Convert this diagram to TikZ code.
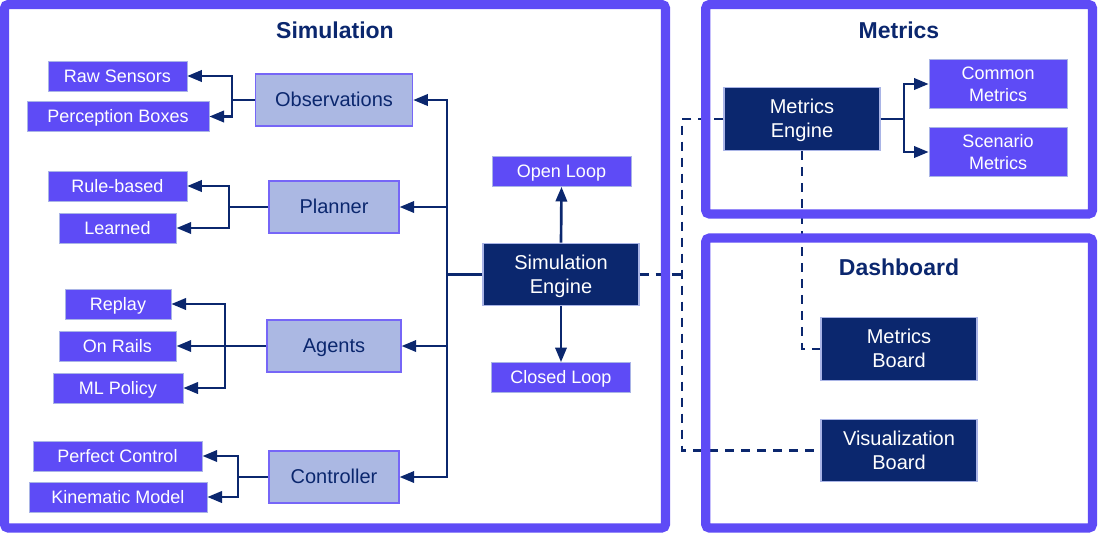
\documentclass[tikz,border=0pt]{standalone}
\usepackage{fontspec}
\setmainfont{Liberation Sans}
\usetikzlibrary{arrows.meta}
\definecolor{framecol}{HTML}{5E4BF6}
\definecolor{navy}{HTML}{0B276E}
\definecolor{lav}{HTML}{ABB8E3}
\definecolor{edgelight}{HTML}{A9B4E6}

\begin{document}
\begin{tikzpicture}[x=0.75pt, y=-0.75pt,
  frame/.style={draw=framecol, line width=7pt, rounded corners=3pt},
  title/.style={font=\fontsize{17.25}{20}\selectfont\bfseries, text=navy},
  leaf/.style={draw=edgelight, line width=0.5pt, fill=framecol, text=white, font=\fontsize{13.5}{16.5}\selectfont, text height=12.76pt, text depth=3.4pt, minimum height=22.5pt, inner sep=0pt},
  leaftwo/.style={leaf, align=center, text height=29.3pt, minimum height=37pt, minimum width=103.5pt},
  comp/.style={draw=framecol!85, line width=0.8pt, fill=lav, text=navy, font=\fontsize{15}{18}\selectfont, text height=14.15pt, text depth=3.75pt, minimum height=39pt, inner sep=0pt},
  engine/.style={draw=edgelight, line width=0.8pt, fill=navy, text=white, font=\fontsize{15}{18}\selectfont, align=center, text height=32.15pt, text depth=3.75pt, minimum width=117pt, minimum height=47pt, inner sep=0pt},
  wire/.style={draw=navy, line width=2pt},
  link/.style={wire, -{Triangle[length=11pt,width=8.5pt]}},
  dlink/.style={wire, dash pattern=on 7pt off 5pt}]
\useasboundingbox (0,0) rectangle (1098,533);

% titles
\node[title] (simtitle) at (335,30) {Simulation};
\node[title] (mettitle) at (899,30) {Metrics};
\node[title] (dashtitle) at (899,267) {Dashboard};

% simulation components
\node[comp, minimum width=118pt] (obs) at (334,100) {Observations};
\node[comp, minimum width=97.5pt] (plan) at (334,207) {Planner};
\node[comp, minimum width=100.5pt] (agents) at (334,346) {Agents};
\node[comp, minimum width=97.5pt] (ctrl) at (334,477) {Controller};

\node[leaf, minimum width=104pt] (raw) at (117.5,76) {Raw Sensors};
\node[leaf, minimum width=136.5pt] (perc) at (118,116.5) {Perception Boxes};
\node[leaf, minimum width=104pt] (rule) at (117.5,186) {Rule-based};
\node[leaf, minimum width=88pt] (learned) at (117.5,228) {Learned};
\node[leaf, minimum width=79.5pt] (replay) at (118,304) {Replay};
\node[leaf, minimum width=88pt] (rails) at (117.5,346) {On Rails};
\node[leaf, minimum width=97.5pt] (mlpol) at (118,388) {ML Policy};
\node[leaf, minimum width=127pt] (perfect) at (117.5,456) {Perfect Control};
\node[leaf, minimum width=133.5pt] (kinem) at (118,497) {Kinematic Model};

\node[engine] (simeng) at (561,274.5) {Simulation\\Engine};
\node[leaf, minimum width=104pt] (openloop) at (561.5,171.5) {Open Loop};
\node[leaf, minimum width=104pt] (closedloop) at (561,377.5) {Closed Loop};

% metrics and dashboard
\node[engine] (meteng) at (802,119) {Metrics\\Engine};
\node[leaftwo] (common) at (998,84) {Common\\Metrics};
\node[leaftwo] (scen) at (998,152) {Scenario\\Metrics};
\node[engine] (metboard) at (899,349) {Metrics\\Board};
\node[engine] (visboard) at (899,450.5) {Visualization\\Board};

% branch points
\coordinate (obsfork) at (232,100);
\coordinate (planfork) at (229,207);
\coordinate (agfork) at (225,346);
\coordinate (ctrlfork) at (238,477);
\coordinate (bus) at (447,274.5);
\coordinate (metfork) at (904,119);
\coordinate (dashbus) at (682,119);
\coordinate (dashjoin) at (682,274.5);

% solid connectors
\draw[wire] (obs.west) -- (obsfork);
\draw[link] (obsfork) |- (raw.east);
\draw[link] (obsfork) |- (perc.east);
\draw[wire] (plan.west) -- (planfork);
\draw[link] (planfork) |- (rule.east);
\draw[link] (planfork) |- (learned.east);
\draw[link] (agents.west) -- (rails.east);
\draw[link] (agfork) |- (replay.east);
\draw[link] (agfork) |- (mlpol.east);
\draw[wire] (ctrl.west) -- (ctrlfork);
\draw[link] (ctrlfork) |- (perfect.east);
\draw[link] (ctrlfork) |- (kinem.east);

\draw[wire] (simeng.west) -- (bus);
\draw[link] (bus) |- (obs.east);
\draw[link] (bus) |- (plan.east);
\draw[link] (bus) |- (agents.east);
\draw[link] (bus) |- (ctrl.east);
\draw[link] (simeng.north) -- (openloop.south);
\draw[link] (simeng.south) -- (closedloop.north);

\draw[wire] (meteng.east) -- (metfork);
\draw[link] (metfork) |- (common.west);
\draw[link] (metfork) |- (scen.west);

% dashed connectors
\draw[dlink] (meteng.south) |- (metboard.west);
\draw[dlink] (meteng.west) -- (dashbus) |- (visboard.west);
\draw[dlink] (simeng.east) -- (dashjoin);

% frames
\draw[frame] (4.5,4.5) rectangle (665.5,528);
\draw[frame] (705.7,4.5) rectangle (1092.5,214);
\draw[frame] (705.7,238) rectangle (1092.5,528);
\end{tikzpicture}
\end{document}
